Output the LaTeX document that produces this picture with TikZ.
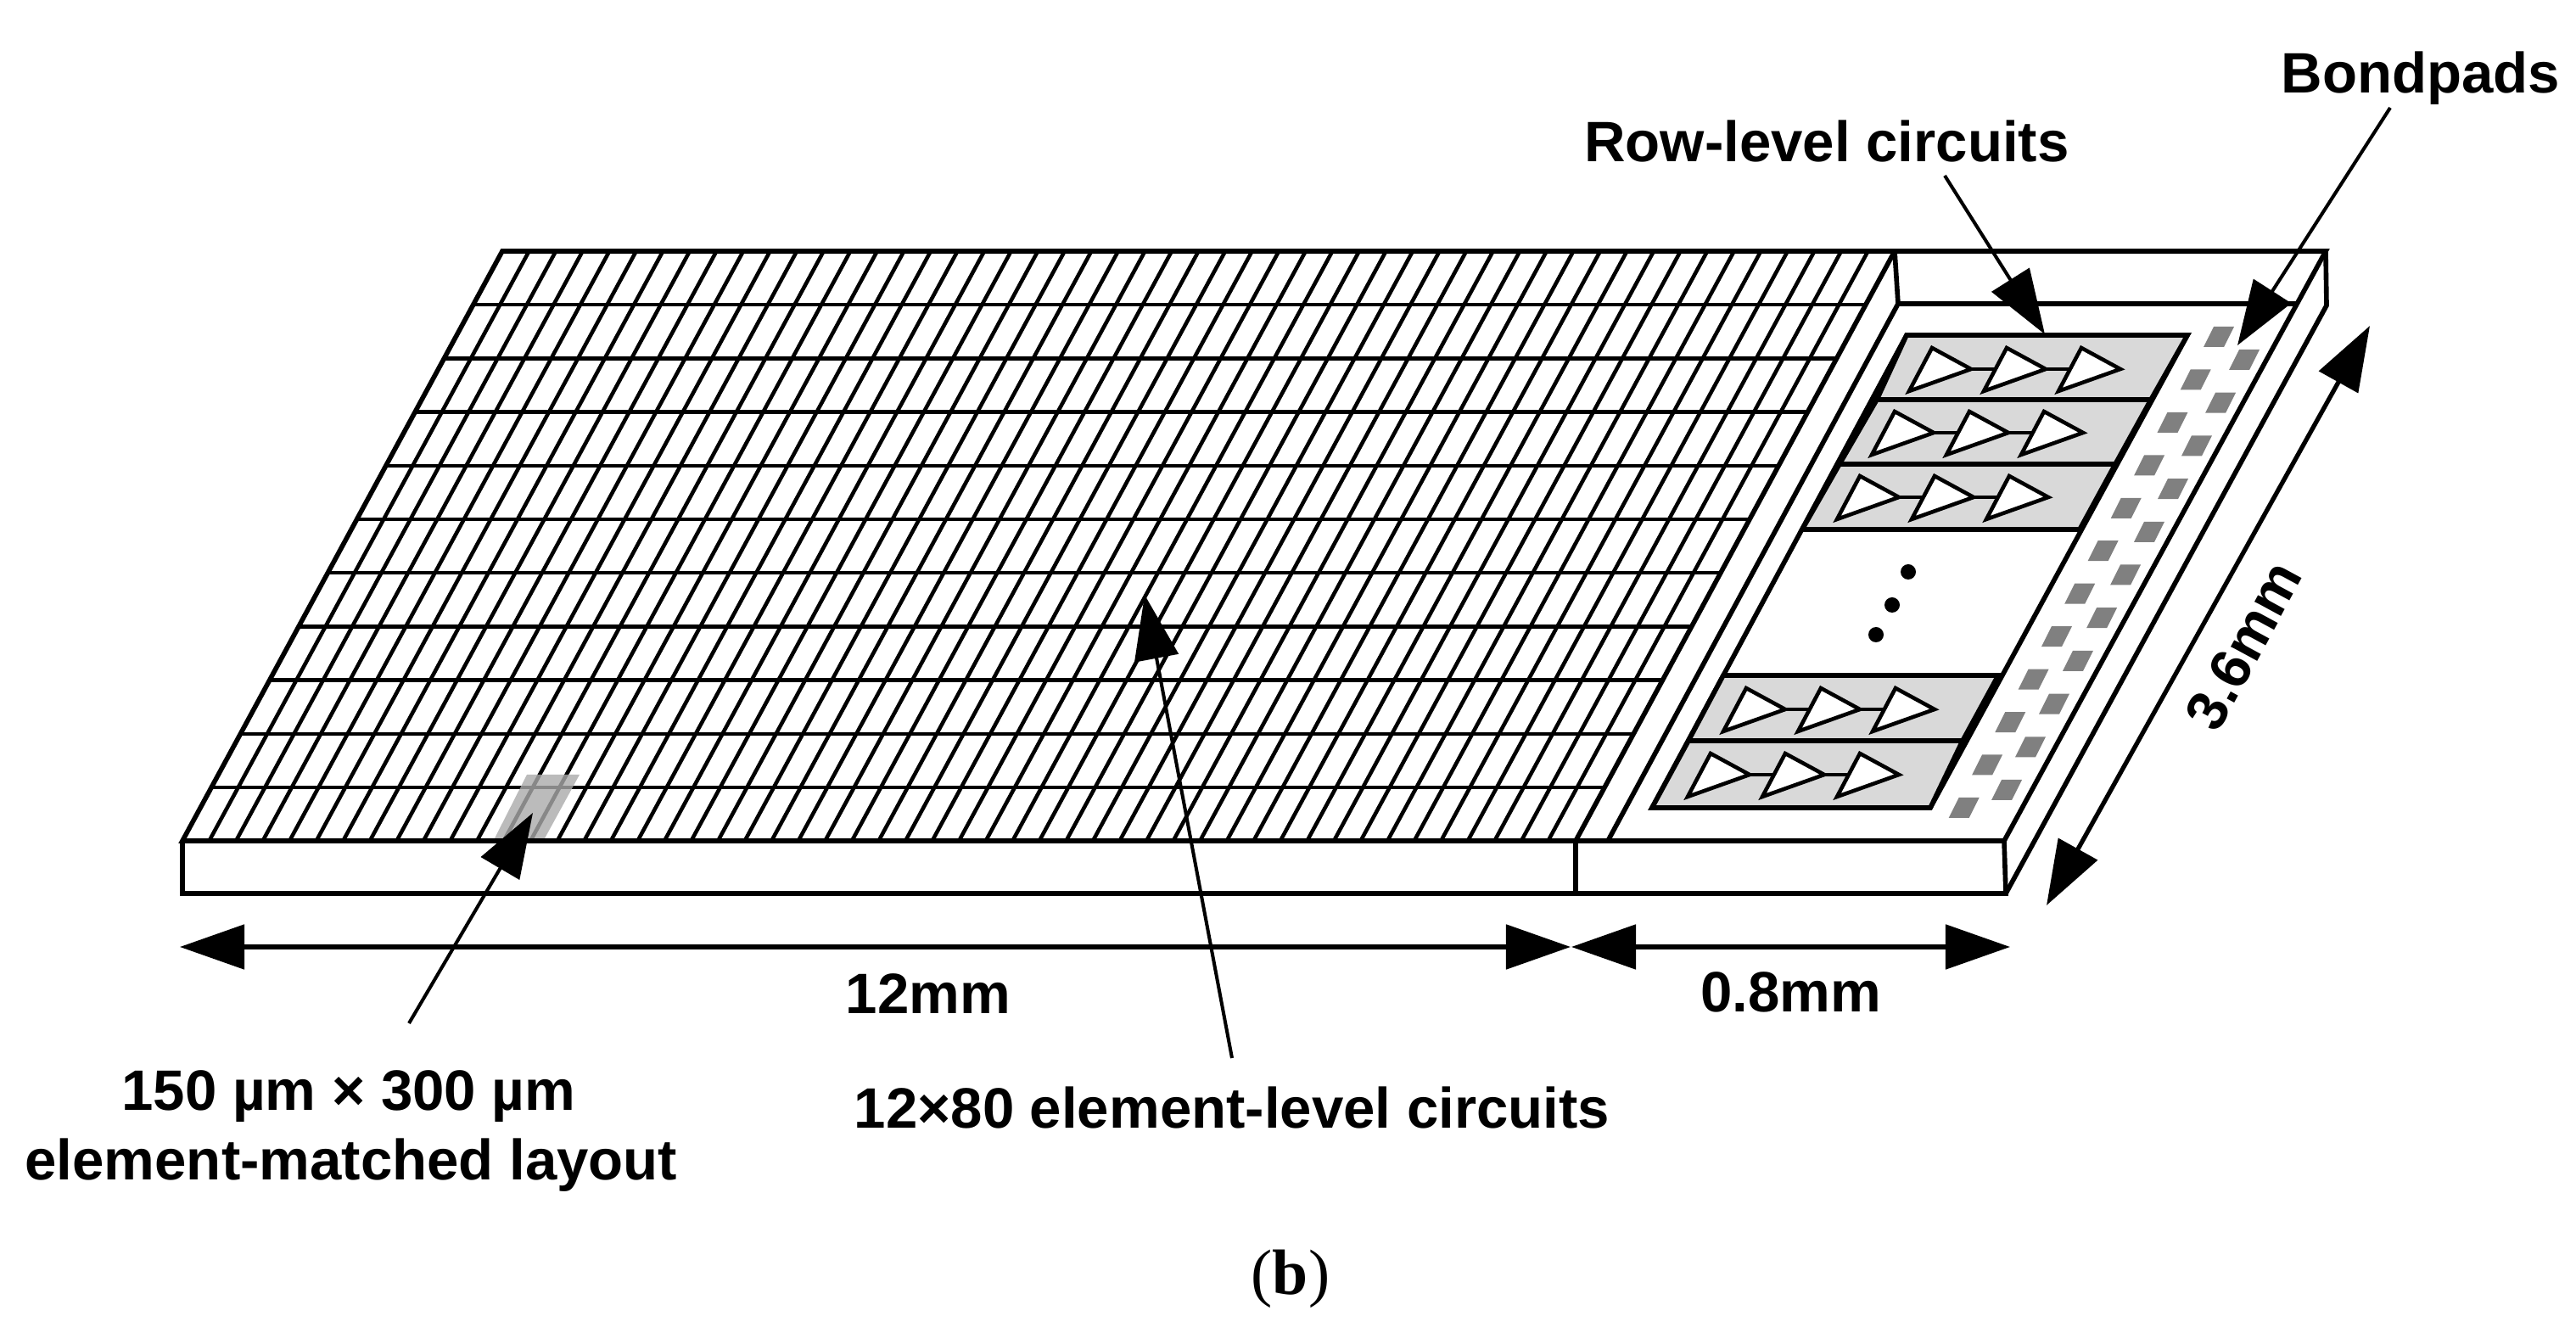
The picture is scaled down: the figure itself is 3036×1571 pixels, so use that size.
\documentclass[tikz,border=0pt]{standalone}
\usepackage{fontspec}
\setmainfont{Liberation Sans}
\newfontfamily\capfont{Liberation Serif}
\usepackage{xcolor}
\usepackage{tikz}
\usetikzlibrary{arrows.meta}
\definecolor{rowgray}{RGB}{217,217,217}
\definecolor{padgray}{RGB}{128,128,128}
\definecolor{cellgray}{RGB}{170,170,170}
\tikzset{
  edge/.style={line width=1.6pt, line join=miter},
  thin edge/.style={line width=1.3pt},
  label text/.style={font=\fontsize{19.1pt}{22pt}\selectfont\bfseries, inner sep=0pt, anchor=base},
  dim arrow/.style={{Triangle[length=7.6mm,width=5.2mm]}-{Triangle[length=7.6mm,width=5.2mm]}, line width=1.5pt},
  call arrow/.style={-{Triangle[length=7.6mm,width=5.2mm]}, line width=1.15pt},
  amp/.style={fill=white, draw=black, line width=1.3pt, line join=miter},
  pad/.style={fill=padgray, draw=none}
}
\begin{document}
\begin{tikzpicture}[x=0.01cm, y=-0.01cm]
  \useasboundingbox (0,0) rectangle (3036,1571);

  % Element grid
  \foreach \i in {1,...,51}
    \draw[thin edge] ({592+31.56*\i},296) -- ({215+31.56*\i},991);
  \foreach \r in {1,...,10}
    \draw[thin edge] ({592-34.27*\r},{296+63.2*\r}) -- ({2233-34.27*\r},{296+63.2*\r});

  % Highlighted cell
  \fill[cellgray, opacity=0.8] (621,913) -- (683,913) -- (642,988) -- (583,988) -- cycle;

  % Chip outline
  \draw[edge] (215,991) -- (592,296) -- (2741,296) -- (2362,991) -- cycle;
  \draw[edge] (215,991) -- (215,1053) -- (2364,1053) -- (2362,991);
  \draw[edge] (2364,1053) -- (2742,360) -- (2741,296);
  \draw[edge] (1857,991) -- (1857,1053);
  \draw[edge] (2233,296) -- (1857,991);
  \draw[edge] (2233,296) -- (2237,358) -- (1895,991);
  \draw[edge] (2237,358) -- (2707,358);

  % Row-level circuits
  \draw[edge] (2247,395) -- (2578,395) -- (2275,952) -- (1947,952) -- cycle;
  \foreach \tlx/\topy/\trx/\brx/\boty/\blx in {2247/395/2578/2535/471/2212, 2212/471/2535/2493/547/2168, 2168/547/2493/2451/624/2124, 2031/796/2355/2313/873/1990, 1990/873/2313/2275/952/1947}
    \draw[edge, fill=rowgray] (\tlx,\topy) -- (\trx,\topy) -- (\brx,\boty) -- (\blx,\boty) -- cycle;

  % Amplifier chains
  \foreach \ax/\ay in {2250/461, 2206/536, 2165/612, 2031/862, 1989/939} {
    \draw[thin edge] (\ax+73,\ay-26) -- (\ax+190,\ay-26);
    \foreach \k in {0,1,2}
      \draw[amp] ({\ax+88*\k},\ay) -- ({\ax+27+88*\k},\ay-51) -- ({\ax+73+88*\k},\ay-26) -- cycle;
  }

  % Dots between rows
  \fill (2249,674) circle (9);
  \fill (2230,713) circle (9);
  \fill (2211,748) circle (9);

  % Bondpads, two staggered columns
  \foreach \k in {0,...,11}
    \fill[pad] ({2610-27.3*\k-13},{397+50.45*\k+12}) -- ++(24,0) -- ++(12,-24) -- ++(-24,0) -- cycle;
  \foreach \k in {0,...,10}
    \fill[pad] ({2640-28*\k-13},{424+50.7*\k+12}) -- ++(24,0) -- ++(12,-24) -- ++(-24,0) -- cycle;

  % Dimension arrows
  \coordinate (widea) at (212,1116);
  \coordinate (wideb) at (1851,1116);
  \coordinate (narrowa) at (1852,1116);
  \coordinate (narrowb) at (2369,1116);
  \coordinate (deptha) at (2793,384);
  \coordinate (depthb) at (2412,1067);
  \draw[dim arrow] (widea) -- (wideb);
  \draw[dim arrow] (narrowa) -- (narrowb);
  \draw[dim arrow] (deptha) -- (depthb);

  % Labels
  \node[label text] (bondlabel) at (2853,110) {Bondpads};
  \node[label text] (rowlabel) at (2153,191) {Row-level circuits};
  \node[label text] (widelabel) at (1094,1195) {12mm};
  \node[label text] (narrowlabel) at (2111,1193) {0.8mm};
  \node[label text] (elemlabel) at (1452,1330) {12×80 element-level circuits};
  \node[label text] (celllabela) at (411,1308) {150 µm × 300 µm};
  \node[label text] (celllabelb) at (414,1390) {element-matched layout};
  \node[label text, anchor=center, rotate=61.5] (depthlabel) at (2644,761) {3.6mm};
  \node[inner sep=0pt, anchor=base, font=\fontsize{21.5pt}{24pt}\selectfont\capfont] (caption) at (1521,1525) {(\textbf{b})};

  % Callout arrows
  \coordinate (bondstart) at (2817,127);
  \coordinate (bondtip) at (2637,407);
  \coordinate (rowstart) at (2292,207);
  \coordinate (rowtip) at (2410,394);
  \coordinate (elemstart) at (1452,1247);
  \coordinate (elemtip) at (1349,701);
  \coordinate (cellstart) at (482,1206);
  \coordinate (celltip) at (628,958);
  \draw[call arrow] (bondstart) -- (bondtip);
  \draw[call arrow] (rowstart) -- (rowtip);
  \draw[call arrow] (elemstart) -- (elemtip);
  \draw[call arrow] (cellstart) -- (celltip);
\end{tikzpicture}
\end{document}
